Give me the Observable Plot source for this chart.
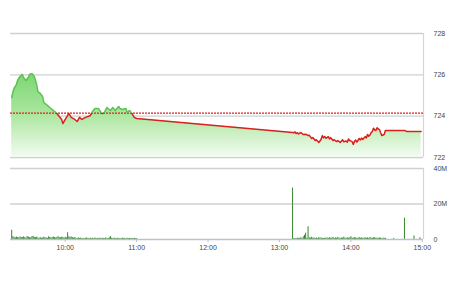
<!DOCTYPE html>
<html>
<head>
<meta charset="utf-8">
<script src="https://cdn.jsdelivr.net/npm/d3@7"></script>
<script src="https://cdn.jsdelivr.net/npm/@observablehq/plot@0.6"></script>
<style>
  html, body { margin: 0; padding: 0; background: #fff; }
  #chart { width: 450px; height: 281px; overflow: hidden; }
  #chart svg { display: block; }
</style>
</head>
<body>
<div id="chart"></div>
<script>
// ---- data ----
const amTimes = ["09:15","09:16","09:17","09:19","09:20","09:22","09:24","09:25","09:27","09:29",
  "09:30","09:32","09:34","09:36","09:37","09:39","09:41","09:42","09:45","09:47",
  "09:50","09:52","09:53","09:55","09:57","09:58","10:00","10:02","10:03","10:05",
  "10:08","10:10","10:12","10:14","10:17","10:19","10:21","10:23","10:25","10:28",
  "10:30","10:31","10:33","10:35","10:38","10:40","10:42","10:45","10:46","10:48",
  "10:51","10:52","10:54","10:56","10:58","11:00"];
const amValues = [724.90,725.14,725.34,725.53,725.73,725.92,726.02,725.87,725.73,725.87,
  726.02,726.06,725.92,725.53,725.19,725.10,724.95,724.66,724.52,724.42,
  724.27,724.18,724.13,723.98,723.84,723.64,723.84,724.03,724.13,723.94,
  723.84,723.74,723.94,723.84,723.94,723.98,724.03,724.23,724.37,724.37,
  724.18,724.13,724.18,724.42,724.27,724.42,724.27,724.47,724.37,724.32,
  724.37,724.18,724.27,724.13,723.94,723.89];
const pmTimes = ["13:11","13:12","13:13","13:14","13:15","13:16","13:18","13:19","13:20","13:22",
  "13:24","13:25","13:27","13:28","13:30","13:31","13:33","13:34","13:35","13:36",
  "13:37","13:38","13:39","13:41","13:42","13:43","13:45","13:46","13:48","13:49",
  "13:51","13:52","13:53","13:54","13:56","13:57","13:58","13:59","14:01","14:02",
  "14:03","14:04","14:05","14:07","14:08","14:09","14:10","14:12","14:13","14:14",
  "14:15","14:16","14:17","14:18","14:19","14:20","14:21","14:22","14:23","14:24",
  "14:25","14:26","14:27","14:28","14:29","14:30","14:45","14:47","14:59"];
const pmValues = [723.21,723.19,723.24,723.16,723.20,723.14,723.21,723.16,723.11,723.13,
  723.06,723.08,722.92,722.97,722.82,722.86,722.73,722.80,722.88,723.06,
  722.95,723.02,722.93,723.01,722.90,722.96,722.82,722.86,722.77,722.82,
  722.73,722.79,722.86,722.76,722.80,722.74,722.90,722.82,722.77,722.63,
  722.78,722.84,722.74,722.92,722.85,722.94,722.87,723.01,722.95,723.11,
  723.03,723.09,723.20,723.26,723.42,723.33,723.31,723.44,723.38,723.35,
  723.20,723.06,723.09,723.12,723.31,723.31,723.31,723.26,723.26];
const refPrice = 724.15;

// volume in millions, one value per minute from the session start
const volMorningStart = "09:15";
const volMorning = [5.2,
  1.6,1.2,1.0,1.3,1.1,0.9,1.4,1.2,1.0,
  1.5,1.1,0.8,1.7,1.3,1.0,0.9,1.6,1.8,1.2,
  1.0,1.4,0.8,0.7,1.1,0.6,0.9,1.3,1.0,0.8,
  0.7,1.5,1.2,0.9,1.0,1.4,1.1,0.8,1.2,1.6,
  1.0,0.9,1.3,1.1,0.8,1.2,0.9,3.8,1.5,1.2,
  1.4,1.0,0.8,1.1,0.7,0.5,0.9,0.6,0.8,0.5,
  0.7,0.4,0.6,0.9,0.5,0.6,0.8,0.4,0.7,0.5,
  0.9,0.5,0.6,0.4,0.8,0.5,0.7,0.6,0.4,0.9,
  0.5,0.6,1.0,1.6,0.7,0.5,0.8,0.6,0.4,0.7,
  0.5,0.6,0.4,0.8,0.5,0.6,0.4,0.7,0.5,0.6,
  0.4,0.6,0.5,0.7,0.4,0.5];
const volAfternoonStart = "13:11";
const volAfternoon = [29.0,
  0.5,0.6,0.4,0.8,0.5,0.7,1.0,0.6,
  1.5,2.4,3.6,0.6,7.2,1.0,0.8,1.2,0.7,0.9,
  0.6,0.8,0.5,1.1,0.7,0.9,0.6,0.5,0.8,0.7,
  0.9,0.6,1.0,0.7,0.8,1.2,0.6,0.9,0.7,1.1,
  0.8,0.6,0.9,0.7,1.3,0.8,0.6,1.0,0.7,0.9,
  1.6,0.8,0.7,1.0,0.9,0.6,0.8,1.1,0.7,0.9,
  0.6,0.8,1.0,0.7,0.9,0.6,1.2,0.8,0.7,0.9,
  1.0,0.7,0.8,0.6,0.9,0.7,0.5,0.8,0.6,0.7];
const volLateTimes = ["14:36","14:45","14:53","14:58"];
const volLateValues = [0.6,12.0,2.0,1.0];

const priceTicks = [722, 724, 726, 728];
const volTicks = [0, 20, 40];
const volTickLabels = ["0", "20M", "40M"];
const timeTickLabels = ["10:00","11:00","12:00","13:00","14:00","15:00"];
const xDomainLabels = ["09:14", "15:01"];

// ---- build ----
const parse = s => { const [h, m] = s.split(":").map(Number); return new Date(2023, 0, 2, h, m); };
const addMin = (s, k) => new Date(parse(s).getTime() + k * 60000);

const price = [...amTimes.map((t, i) => ({t: parse(t), v: amValues[i]})),
               ...pmTimes.map((t, i) => ({t: parse(t), v: pmValues[i]}))];
const vol = [
  ...volMorning.map((v, i) => ({t: addMin(volMorningStart, i), v})),
  ...volAfternoon.map((v, i) => ({t: addMin(volAfternoonStart, i), v})),
  ...volLateTimes.map((t, i) => ({t: parse(t), v: volLateValues[i]}))
];
const xDomain = xDomainLabels.map(parse);

const font = {fontSize: "7px", fontFamily: "'Liberation Sans', Arial, sans-serif", color: "#444", background: "transparent"};
const W = 450;

const priceChart = Plot.plot({
  width: W, height: 162,
  marginTop: 33, marginBottom: 5, marginLeft: 10, marginRight: 27,
  style: font,
  x: {type: "time", domain: xDomain, axis: null},
  y: {domain: [722, 728], ticks: priceTicks, axis: "right", tickSize: 0, tickPadding: 10, label: null, tickFormat: d => String(d)},
  marks: [
    Plot.ruleY(priceTicks, {stroke: "#d0d0d0", strokeWidth: 1.4}),
    Plot.ruleX([xDomain[1]], {y1: 722, y2: 728, stroke: "#d2d6dc", strokeWidth: 1.2}),
    Plot.areaY(price, {x: "t", y1: 722, y2: "v", fill: "url(#priceFill)"}),
    Plot.ruleY([refPrice], {stroke: "#e01e1e", strokeWidth: 1.3, strokeDasharray: "2,1"}),
    Plot.lineY(price, {x: "t", y: "v", stroke: "url(#priceStroke)", strokeWidth: 1.5})
  ]
});

const volChart = Plot.plot({
  width: W, height: 100,
  marginTop: 6, marginBottom: 23, marginLeft: 10, marginRight: 27,
  style: font,
  x: {type: "time", domain: xDomain, ticks: timeTickLabels.map(parse), tickFormat: "%H:%M", tickSize: 3, tickPadding: 3, label: null},
  y: {domain: [0, 40], ticks: volTicks, axis: "right", tickSize: 0, tickPadding: 10, label: null,
      tickFormat: d => volTickLabels[volTicks.indexOf(d)]},
  marks: [
    Plot.ruleY([20, 40], {stroke: "#d0d0d0", strokeWidth: 1.4}),
    Plot.ruleX([xDomain[1]], {y1: 0, y2: 40, stroke: "#d2d6dc", strokeWidth: 1.2}),
    Plot.ruleX(vol, {x: "t", y1: 0, y2: "v", stroke: "#36862f", strokeWidth: 1}),
    Plot.ruleY([0], {stroke: "#b7c3d0", strokeWidth: 1.3})
  ]
});

// gradients
const yRef = priceChart.scale("y").apply(refPrice);
const H = 162;
const defs = d3.select(priceChart).insert("defs", ":first-child");
const fillG = defs.append("linearGradient").attr("id", "priceFill")
  .attr("x1", 0).attr("y1", 0).attr("x2", 0).attr("y2", 1);
fillG.append("stop").attr("offset", 0).attr("stop-color", "#7cd573");
fillG.append("stop").attr("offset", 0.5).attr("stop-color", "#ace7a0");
fillG.append("stop").attr("offset", 1).attr("stop-color", "#f3fcf1");
const strokeG = defs.append("linearGradient").attr("id", "priceStroke")
  .attr("gradientUnits", "userSpaceOnUse")
  .attr("x1", 0).attr("y1", 0).attr("x2", 0).attr("y2", H);
strokeG.append("stop").attr("offset", 0).attr("stop-color", "#5cc352");
strokeG.append("stop").attr("offset", yRef / H).attr("stop-color", "#5cc352");
strokeG.append("stop").attr("offset", yRef / H).attr("stop-color", "#dc1f1f");
strokeG.append("stop").attr("offset", 1).attr("stop-color", "#dc1f1f");

// lighter tick marks on the time axis
d3.select(volChart).selectAll("[aria-label^='x-axis'] line, [aria-label^='x-axis'] path")
  .attr("stroke", "#b7c3d0");

const root = document.getElementById("chart");
root.appendChild(priceChart);
root.appendChild(volChart);
</script>
</body>
</html>
